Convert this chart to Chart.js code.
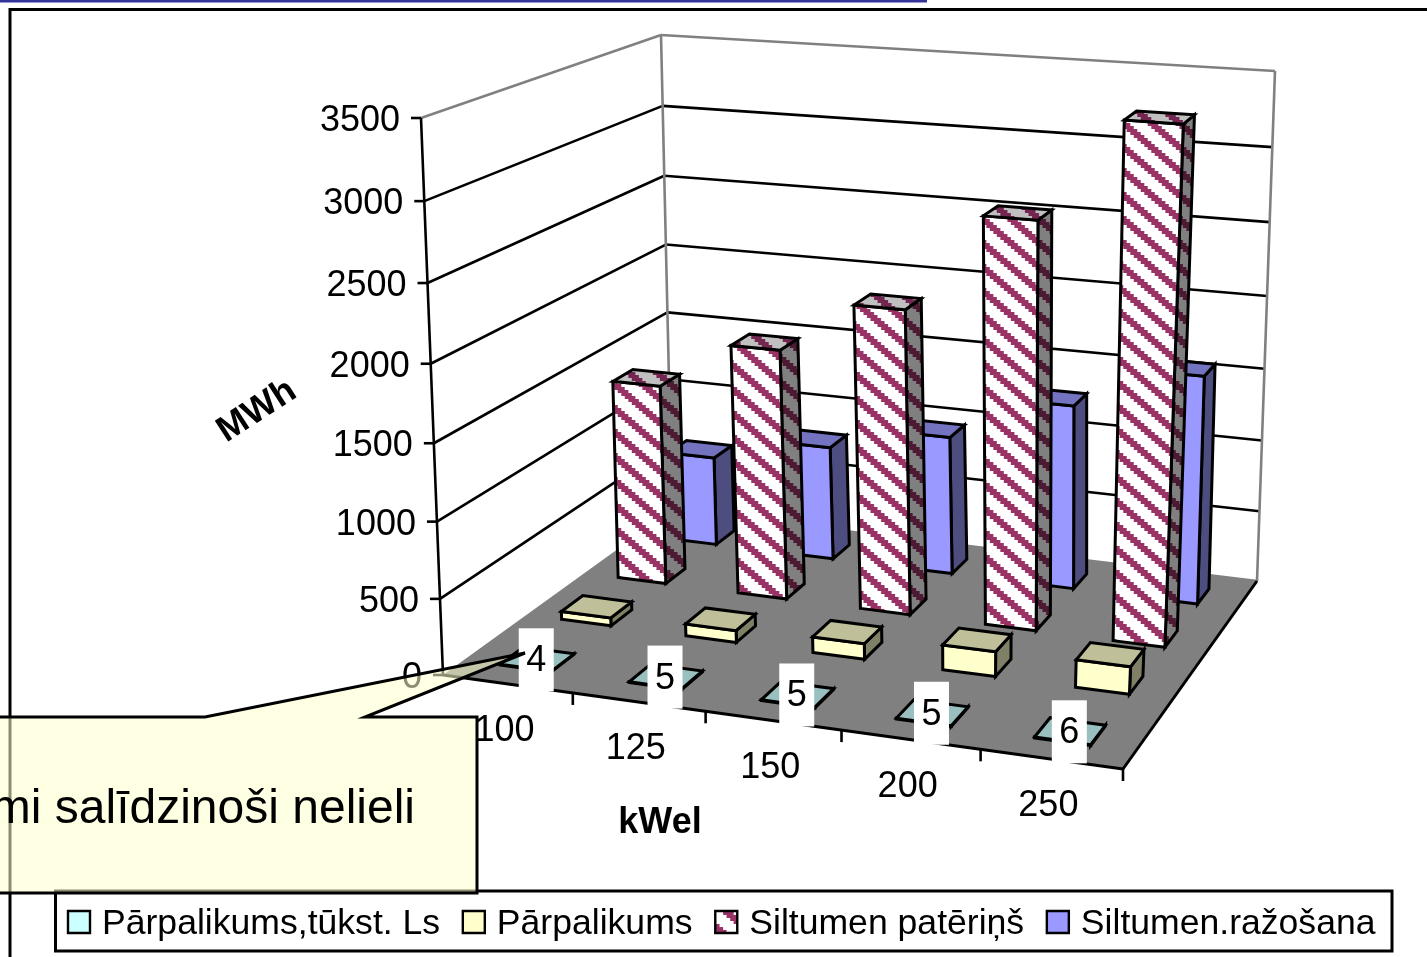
<!DOCTYPE html>
<html>
<head>
<meta charset="utf-8">
<title>MWh / kWel</title>
<script src="https://cdn.jsdelivr.net/npm/chart.js@4"></script>
<style>
  html, body { margin: 0; background: #fff; }
  canvas { display: block; }
</style>
</head>
<body>
<canvas id="grafiks" width="1427" height="957"></canvas>
<script>
const categories = ['100', '125', '150', '200', '250'];
const seriesNames = ['Pārpalikums,tūkst. Ls', 'Pārpalikums', 'Siltumen patēriņš', 'Siltumen.ražošana'];
const parpalikumsLs = [4, 5, 5, 5, 6];
const parpalikums = [55, 80, 105, 165, 180];
const paterins = [1390, 1720, 2070, 2725, 3395];
const razosana = [640, 810, 975, 1285, 1575];

const FONT = '"Liberation Sans", Arial, sans-serif';

// corners of the 3D box on screen: floor and ceiling, front-left going round
const floorQuad = [[443, 675], [1123, 769], [1257, 581], [672, 510]];
const topQuad = [[421, 118], [1156, 179], [1275, 71], [661, 35]];
const heightBend = 0.95;
const barWidth = 0.40;
const barDepth = 0.37;
const barShift = -0.003;

// unit square -> quad
function makeHomography(q) {
  const [[x0, y0], [x1, y1], [x2, y2], [x3, y3]] = q;
  const dx1 = x1 - x2, dx2 = x3 - x2, dy1 = y1 - y2, dy2 = y3 - y2;
  const sx = x0 - x1 + x2 - x3, sy = y0 - y1 + y2 - y3;
  const den = dx1 * dy2 - dx2 * dy1;
  const g = (sx * dy2 - dx2 * sy) / den;
  const h = (dx1 * sy - sx * dy1) / den;
  const a = x1 - x0 + g * x1, b = x3 - x0 + h * x3;
  const d = y1 - y0 + g * y1, e = y3 - y0 + h * y3;
  return (u, v) => {
    const w = g * u + h * v + 1;
    return [(a * u + b * v + x0) / w, (d * u + e * v + y0) / w];
  };
}
const floorMap = makeHomography(floorQuad);
const topMap = makeHomography(topQuad);

function project(u, v, h) {
  const f = floorMap(u, v), t = topMap(u, v);
  const k = h * heightBend / (h * heightBend + 1 - h);
  return [f[0] + (t[0] - f[0]) * k, f[1] + (t[1] - f[1]) * k];
}

function poly(ctx, pts, fill, stroke, lw) {
  ctx.beginPath();
  pts.forEach((p, i) => i ? ctx.lineTo(p[0], p[1]) : ctx.moveTo(p[0], p[1]));
  ctx.closePath();
  if (fill) { ctx.fillStyle = fill; ctx.fill(); }
  if (stroke) { ctx.strokeStyle = stroke; ctx.lineWidth = lw; ctx.lineJoin = 'miter'; ctx.stroke(); }
}

function line(ctx, a, b, color, lw) {
  ctx.beginPath();
  ctx.moveTo(a[0], a[1]);
  ctx.lineTo(b[0], b[1]);
  ctx.strokeStyle = color;
  ctx.lineWidth = lw;
  ctx.stroke();
}

// blocky downward diagonal hatch, one 8x8 cell scaled up three times
function hatch(ctx, paper, ink) {
  const cell = 3, c = document.createElement('canvas');
  c.width = c.height = 8 * cell;
  const g = c.getContext('2d');
  g.fillStyle = paper;
  g.fillRect(0, 0, c.width, c.height);
  g.fillStyle = ink;
  for (let i = 0; i < 8; i++) {
    for (let dy = 0; dy < 8; dy++) {
      g.fillRect(i * cell, (i * cell + dy) % c.height, cell, 1);
      g.fillRect(i * cell, (i * cell + dy + 1) % c.height, cell, 1);
    }
  }
  const pattern = ctx.createPattern(c, 'repeat');
  pattern.setTransform(new DOMMatrix().scale(1.17, 1));
  return pattern;
}

const ctx = document.getElementById('grafiks').getContext('2d');
const hatchFront = hatch(ctx, '#ffffff', '#993366');
const hatchTop = hatch(ctx, '#c0c0c0', '#732650');
const hatchSide = hatch(ctx, '#808080', '#4d1a33');

// bars are laid out by the normal bar controller, only the drawing is 3D
class Bar3DController extends Chart.BarController {
  draw() {
    const meta = this._cachedMeta;
    const { chart } = this;
    const { x: xs, y: ys } = chart.scales;
    const ds = chart.data.datasets[this.index];
    const row = this.index, rows = chart.data.datasets.length;
    const lw = 3;
    const c = chart.ctx;
    const v0 = (row + 0.5 - barDepth / 2) / rows, v1 = (row + 0.5 + barDepth / 2) / rows;
    meta.data.forEach(bar => {
      const p = bar.getProps(['x', 'y', 'base', 'width'], true);
      const u0 = (p.x - p.width / 2 - xs.left) / xs.width + barShift;
      const u1 = (p.x + p.width / 2 - xs.left) / xs.width + barShift;
      const h = (p.base - p.y) / ys.height;
      const a = project(u0, v0, 0), b = project(u1, v0, 0), e = project(u1, v1, 0);
      const A = project(u0, v0, h), B = project(u1, v0, h), E = project(u1, v1, h), F = project(u0, v1, h);
      poly(c, [b, e, E, B], ds.sideColor, '#000', lw);
      poly(c, [a, b, B, A], ds.backgroundColor, '#000', lw);
      poly(c, [A, B, E, F], ds.topColor, '#000', lw);
    });
  }
}
Bar3DController.id = 'bar3d';
Bar3DController.defaults = Chart.BarController.defaults;
Chart.register(Bar3DController);

// walls, floor, gridlines and the axes
const boxPlugin = {
  id: 'box',
  beforeDatasetsDraw(chart) {
    const c = chart.ctx;
    const { x: xs, y: ys } = chart.scales;
    const gray = '#808080';

    c.fillStyle = '#333399';
    c.fillRect(0, 0, 927, 2.5);
    c.beginPath();
    c.moveTo(10, 957);
    c.lineTo(10, 9.5);
    c.lineTo(1427, 9.5);
    c.strokeStyle = '#000';
    c.lineWidth = 3;
    c.stroke();

    // gridlines on the two walls
    ys.ticks.forEach(t => {
      const h = (ys.bottom - ys.getPixelForValue(t.value)) / ys.height;
      if (h > 0 && h < 1) {
        line(c, project(0, 0, h), project(0, 1, h), '#000', 2.6);
        line(c, project(0, 1, h), project(1, 1, h), '#000', 2.6);
      }
    });
    line(c, project(0, 0, 1), project(0, 1, 1), gray, 2.6);
    line(c, project(0, 1, 1), project(1, 1, 1), gray, 2.6);
    line(c, project(0, 1, 0), project(0, 1, 1), gray, 2.6);
    line(c, project(1, 1, 0), project(1, 1, 1), gray, 2.6);

    poly(c, [project(0, 0, 0), project(1, 0, 0), project(1, 1, 0), project(0, 1, 0)], gray);
    line(c, project(0, 1, 0), project(1, 1, 0), gray, 2.6);
    line(c, project(0, 0, 0), project(1, 0, 0), '#000', 3);
    line(c, project(1, 0, 0), project(1, 1, 0), '#000', 3);
    line(c, project(0, 0, 0), project(0, 0, 1), '#000', 2.6);

    // value axis
    c.font = '36px ' + FONT;
    c.textAlign = 'right';
    c.textBaseline = 'middle';
    ys.ticks.forEach(t => {
      const h = (ys.bottom - ys.getPixelForValue(t.value)) / ys.height;
      const p = project(0, 0, h);
      line(c, p, [p[0] - 10, p[1]], '#000', 2.6);
      c.fillStyle = '#000';
      c.fillText(String(t.value), p[0] - 21, p[1] + 3);
    });

    // category axis
    const band = xs.width / categories.length;
    c.textAlign = 'center';
    categories.forEach((name, i) => {
      const mid = (xs.getPixelForValue(i) - xs.left) / xs.width;
      const end = (xs.getPixelForValue(i) + band / 2 - xs.left) / xs.width;
      const t = project(end, 0, 0);
      line(c, t, [t[0], t[1] + 12], '#000', 2.6);
      const p = project(mid, 0, 0);
      c.fillStyle = '#000';
      c.fillText(name, p[0] - 3, p[1] + 47);
    });

    // axis titles
    c.font = 'bold 36px ' + FONT;
    c.fillText('kWel', 660, 823);
    c.save();
    c.translate(257, 411);
    c.rotate(-33 * Math.PI / 180);
    c.fillText('MWh', 0, 0);
    c.restore();
  },

  afterDatasetsDraw(chart) {
    const c = chart.ctx;

    // value labels of the front row on white tags
    const { x: xs, y: ys } = chart.scales;
    const rows = chart.data.datasets.length;
    c.font = '36px ' + FONT;
    c.textAlign = 'center';
    c.textBaseline = 'middle';
    chart.getDatasetMeta(0).data.forEach((bar, i) => {
      const u = (bar.x - xs.left) / xs.width;
      const h = (bar.base - bar.y) / ys.height;
      const p = project(u, 0.5 / rows, h);
      c.fillStyle = '#fff';
      c.fillRect(p[0] - 20.5, p[1] - 31, 35, 63);
      c.fillStyle = '#000';
      c.fillText(parpalikumsLs[i], p[0] - 3, p[1] + 2);
    });

    // legend
    poly(c, [[55.5, 891], [1392, 891], [1392, 951], [55.5, 951]], '#fff', '#000', 3);
    c.font = '35.6px ' + FONT;
    c.textAlign = 'left';
    let x = 68;
    chart.data.datasets.forEach(ds => {
      poly(c, [[x, 911], [x + 22, 911], [x + 22, 933], [x, 933]], ds.backgroundColor, '#000', 2.4);
      x += 34;
      c.fillStyle = '#000';
      c.fillText(ds.label, x, 924);
      x += c.measureText(ds.label).width + 22.7;
    });

    // note balloon pointing at the front row
    poly(c, [[-10, 717], [205, 717], [525, 653], [365, 717], [477, 717], [477, 893], [-10, 893]],
      'rgba(255,255,204,0.55)', '#000', 3);
    c.fillStyle = '#000';
    c.font = '48px ' + FONT;
    c.textAlign = 'right';
    c.textBaseline = 'alphabetic';
    c.fillText('mi salīdzinoši nelieli', 415, 823);
  }
};

new Chart(ctx, {
  type: 'bar3d',
  data: {
    labels: categories,
    datasets: [
      { label: seriesNames[0], data: parpalikumsLs, backgroundColor: '#ccffff', topColor: '#99bfbf', sideColor: '#668080' },
      { label: seriesNames[1], data: parpalikums, backgroundColor: '#ffffcc', topColor: '#bfbf99', sideColor: '#808066' },
      { label: seriesNames[2], data: paterins, backgroundColor: hatchFront, topColor: hatchTop, sideColor: hatchSide },
      { label: seriesNames[3], data: razosana, backgroundColor: '#9999ff', topColor: '#7373bf', sideColor: '#4d4d80' }
    ]
  },
  options: {
    responsive: false,
    animation: false,
    events: [],
    datasets: { bar3d: { grouped: false, categoryPercentage: barWidth, barPercentage: 1 } },
    plugins: { legend: { display: false }, tooltip: { enabled: false } },
    scales: {
      x: { type: 'category', display: false, offset: true },
      y: { type: 'linear', display: false, min: 0, max: 3500, ticks: { stepSize: 500 } }
    }
  },
  plugins: [boxPlugin]
});
</script>
</body>
</html>
